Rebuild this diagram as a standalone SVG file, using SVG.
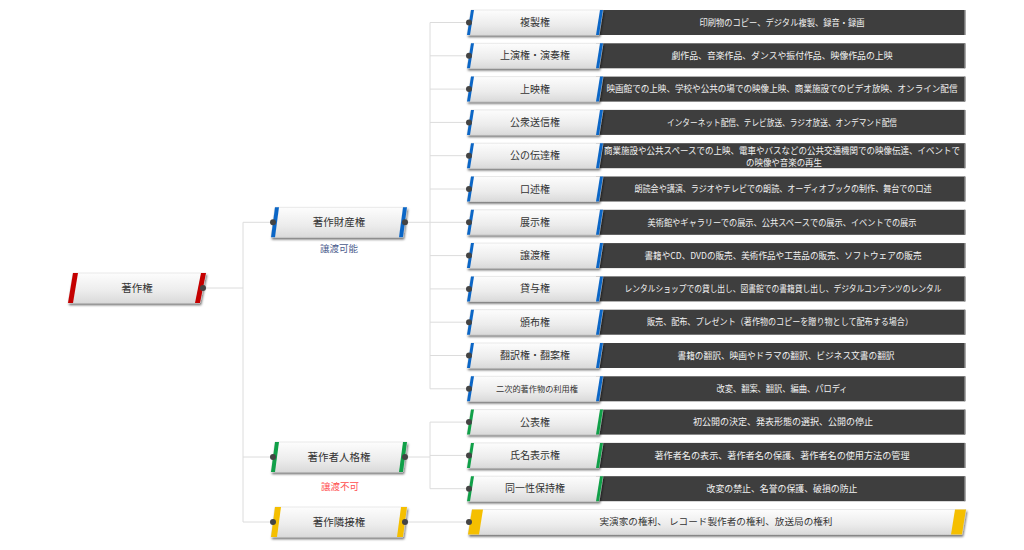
<svg xmlns="http://www.w3.org/2000/svg" xmlns:xlink="http://www.w3.org/1999/xlink" width="1024" height="550" viewBox="0 0 1024 550">
<style>
text{font-family:"Noto Sans CJK JP","Noto Sans",sans-serif;}
.lbl{font-size:10px;fill:#333;text-anchor:middle;}
.mlbl{font-size:10.5px;fill:#333;text-anchor:middle;}
.desc{font-size:9px;fill:#f2f2f2;text-anchor:middle;}
.conn{stroke:#dcdcdc;stroke-width:1;fill:none;}
.dot{fill:#444;}
.box{fill:#3e3e3e;}
.edge{stroke:#8c8c8c;stroke-width:1.5;}
.node{fill:url(#gNode);stroke:#d4d4d4;stroke-width:0.5;filter:url(#sh);}
.blue{fill:#0b66c6;}
.red{fill:#c40000;}
.green{fill:#10a048;}
.yellow{fill:#f5bf00;}
</style>
<defs>
<linearGradient id="gNode" x1="0" y1="0" x2="0" y2="1">
<stop offset="0" stop-color="#fdfdfd"/>
<stop offset="0.6" stop-color="#ececec"/>
<stop offset="1" stop-color="#dadada"/>
</linearGradient>
<filter id="sh" x="-5%" y="-20%" width="110%" height="170%">
<feDropShadow dx="1" dy="2" stdDeviation="0.8" flood-color="#000" flood-opacity="0.55"/>
</filter>
<g id="darkBox">
<rect class="box" x="596" y="-12.5" width="369" height="25"/>
<line class="edge" x1="965" y1="-12.5" x2="965" y2="12.5"/>
</g>
<g id="leafBody">
<polygon class="node" points="471,-12.5 603,-12.5 599,12.5 467,12.5"/>
</g>
<g id="leafBlue">
<use xlink:href="#darkBox"/>
<use xlink:href="#leafBody"/>
<polygon class="blue" points="471,-12.5 474,-12.5 470,12.5 467,12.5"/>
<polygon class="blue" points="600,-12.5 603,-12.5 599,12.5 596,12.5"/>
<circle class="dot" cx="469" cy="0" r="3"/>
</g>
<g id="leafGreen">
<use xlink:href="#darkBox"/>
<use xlink:href="#leafBody"/>
<polygon class="green" points="471,-12.5 474,-12.5 470,12.5 467,12.5"/>
<polygon class="green" points="600,-12.5 603,-12.5 599,12.5 596,12.5"/>
<circle class="dot" cx="469" cy="0" r="3"/>
</g>
<g id="midBody">
<polygon class="node" points="275,-15 407,-15 403,15 271,15"/>
</g>
</defs>

<g id="connectors">
<path class="conn" d="M203,288 H243 M243,222.3 V522 M243,222.3 H273 M243,457 H273 M243,522 H273"/>
<path class="conn" d="M405,222.3 H430 M430,22.5 V388.8 M430,22.5 H469 M430,55.8 H469 M430,89.1 H469 M430,122.4 H469 M430,155.7 H469 M430,189 H469 M430,222.3 H469 M430,255.6 H469 M430,288.9 H469 M430,322.2 H469 M430,355.5 H469 M430,388.8 H469"/>
<path class="conn" d="M405,457 H430 M430,422.1 V488.7 M430,422.1 H469 M430,455.4 H469 M430,488.7 H469"/>
<path class="conn" d="M405,522 H469"/>
</g>

<g id="root" transform="translate(0,288)">
<polygon class="node" points="73,-15 206,-15 200,15 68,15"/>
<polygon class="red" points="73,-15 78,-15 73,15 68,15"/>
<polygon class="red" points="201,-15 206,-15 200,15 195,15"/>
<circle class="dot" cx="203" cy="0" r="3"/>
<text class="mlbl" x="137" y="4">著作権</text>
</g>

<g id="zaisan" transform="translate(0,222.3)">
<use xlink:href="#midBody"/>
<polygon class="blue" points="275,-15 279,-15 275,15 271,15"/>
<polygon class="blue" points="403,-15 407,-15 403,15 399,15"/>
<circle class="dot" cx="273" cy="0" r="3"/>
<circle class="dot" cx="405" cy="0" r="3"/>
<text class="mlbl" x="339" y="4">著作財産権</text>
<text x="339" y="29.5" style="font-size:9.5px;fill:#4a5a8c;text-anchor:middle">譲渡可能</text>
</g>

<g id="jinkaku" transform="translate(0,457)">
<use xlink:href="#midBody"/>
<polygon class="green" points="275,-15 279,-15 275,15 271,15"/>
<polygon class="green" points="403,-15 407,-15 403,15 399,15"/>
<circle class="dot" cx="273" cy="0" r="3"/>
<circle class="dot" cx="405" cy="0" r="3"/>
<text class="mlbl" x="339" y="4">著作者人格権</text>
<text x="340" y="33" style="font-size:9.5px;fill:#ff4d4d;text-anchor:middle">譲渡不可</text>
</g>

<g id="rinsetsu" transform="translate(0,522)">
<use xlink:href="#midBody"/>
<polygon class="yellow" points="275,-15 281,-15 277,15 271,15"/>
<polygon class="yellow" points="401,-15 407,-15 403,15 397,15"/>
<circle class="dot" cx="273" cy="0" r="3"/>
<circle class="dot" cx="405" cy="0" r="3"/>
<text class="mlbl" x="339" y="4">著作隣接権</text>
</g>

<g id="fukusei" transform="translate(0,22.5)">
<use xlink:href="#leafBlue"/>
<text class="lbl" x="535" y="3.5">複製権</text>
<text class="desc" x="782" y="3.2" textLength="165" lengthAdjust="spacingAndGlyphs">印刷物のコピー、デジタル複製、録音・録画</text>
</g>
<g id="joen" transform="translate(0,55.8)">
<use xlink:href="#leafBlue"/>
<text class="lbl" x="535" y="3.5">上演権・演奏権</text>
<text class="desc" x="782" y="3.2" textLength="221" lengthAdjust="spacingAndGlyphs">劇作品、音楽作品、ダンスや振付作品、映像作品の上映</text>
</g>
<g id="joei" transform="translate(0,89.1)">
<use xlink:href="#leafBlue"/>
<text class="lbl" x="535" y="3.5">上映権</text>
<text class="desc" x="782" y="3.2" textLength="351" lengthAdjust="spacingAndGlyphs">映画館での上映、学校や公共の場での映像上映、商業施設でのビデオ放映、オンライン配信</text>
</g>
<g id="koshu" transform="translate(0,122.4)">
<use xlink:href="#leafBlue"/>
<text class="lbl" x="535" y="3.5">公衆送信権</text>
<text class="desc" x="782" y="3.2" textLength="230" lengthAdjust="spacingAndGlyphs">インターネット配信、テレビ放送、ラジオ放送、オンデマンド配信</text>
</g>
<g id="dentatsu" transform="translate(0,155.7)">
<use xlink:href="#leafBlue"/>
<text class="lbl" x="535" y="3.5">公の伝達権</text>
<text class="desc" x="782" y="-2" textLength="356" lengthAdjust="spacingAndGlyphs">商業施設や公共スペースでの上映、電車やバスなどの公共交通機関での映像伝達、イベントで</text>
<text class="desc" x="784" y="10.5" textLength="76" lengthAdjust="spacingAndGlyphs">の映像や音楽の再生</text>
</g>
<g id="kojutsu" transform="translate(0,189)">
<use xlink:href="#leafBlue"/>
<text class="lbl" x="535" y="3.5">口述権</text>
<text class="desc" x="783" y="3.2" textLength="297" lengthAdjust="spacingAndGlyphs">朗読会や講演、ラジオやテレビでの朗読、オーディオブックの制作、舞台での口述</text>
</g>
<g id="tenji" transform="translate(0,222.3)">
<use xlink:href="#leafBlue"/>
<text class="lbl" x="535" y="3.5">展示権</text>
<text class="desc" x="782" y="3.2" textLength="269" lengthAdjust="spacingAndGlyphs">美術館やギャラリーでの展示、公共スペースでの展示、イベントでの展示</text>
</g>
<g id="joto" transform="translate(0,255.6)">
<use xlink:href="#leafBlue"/>
<text class="lbl" x="535" y="3.5">譲渡権</text>
<text class="desc" x="783" y="3.2" textLength="277" lengthAdjust="spacingAndGlyphs">書籍やCD、DVDの販売、美術作品や工芸品の販売、ソフトウェアの販売</text>
</g>
<g id="taiyo" transform="translate(0,288.9)">
<use xlink:href="#leafBlue"/>
<text class="lbl" x="535" y="3.5">貸与権</text>
<text class="desc" x="783" y="3.2" textLength="317" lengthAdjust="spacingAndGlyphs">レンタルショップでの貸し出し、図書館での書籍貸し出し、デジタルコンテンツのレンタル</text>
</g>
<g id="hanpu" transform="translate(0,322.2)">
<use xlink:href="#leafBlue"/>
<text class="lbl" x="535" y="3.5">頒布権</text>
<text class="desc" x="780" y="3.2" textLength="266" lengthAdjust="spacingAndGlyphs">販売、配布、プレゼント（著作物のコピーを贈り物として配布する場合）</text>
</g>
<g id="honyaku" transform="translate(0,355.5)">
<use xlink:href="#leafBlue"/>
<text class="lbl" x="535" y="3.5">翻訳権・翻案権</text>
<text class="desc" x="786" y="3.2" textLength="217" lengthAdjust="spacingAndGlyphs">書籍の翻訳、映画やドラマの翻訳、ビジネス文書の翻訳</text>
</g>
<g id="niji" transform="translate(0,388.8)">
<use xlink:href="#leafBlue"/>
<text class="lbl" x="537" y="3" style="font-size:8.2px">二次的著作物の利用権</text>
<text class="desc" x="782" y="3.2" textLength="131" lengthAdjust="spacingAndGlyphs">改変、翻案、翻訳、編曲、パロディ</text>
</g>
<g id="kohyo" transform="translate(0,422.1)">
<use xlink:href="#leafGreen"/>
<text class="lbl" x="535" y="3.5">公表権</text>
<text class="desc" x="783" y="3.2" textLength="180" lengthAdjust="spacingAndGlyphs">初公開の決定、発表形態の選択、公開の停止</text>
</g>
<g id="shimei" transform="translate(0,455.4)">
<use xlink:href="#leafGreen"/>
<text class="lbl" x="535" y="3.5">氏名表示権</text>
<text class="desc" x="782" y="3.2" textLength="255" lengthAdjust="spacingAndGlyphs">著作者名の表示、著作者名の保護、著作者名の使用方法の管理</text>
</g>
<g id="doitsu" transform="translate(0,488.7)">
<use xlink:href="#leafGreen"/>
<text class="lbl" x="535" y="3.5">同一性保持権</text>
<text class="desc" x="782" y="3.2" textLength="151" lengthAdjust="spacingAndGlyphs">改変の禁止、名誉の保護、破損の防止</text>
</g>
<g id="rinsetsu-leaf" transform="translate(0,522)">
<polygon class="node" points="472,-12.5 966,-12.5 962,12.5 468,12.5"/>
<polygon class="yellow" points="472,-12.5 483,-12.5 479,12.5 468,12.5"/>
<polygon class="yellow" points="955,-12.5 966,-12.5 962,12.5 951,12.5"/>
<circle class="dot" cx="469" cy="0" r="3"/>
<text class="lbl" x="716" y="3.3" style="font-size:9px" textLength="233" lengthAdjust="spacingAndGlyphs">実演家の権利、 レコード製作者の権利、放送局の権利</text>
</g>
</svg>
